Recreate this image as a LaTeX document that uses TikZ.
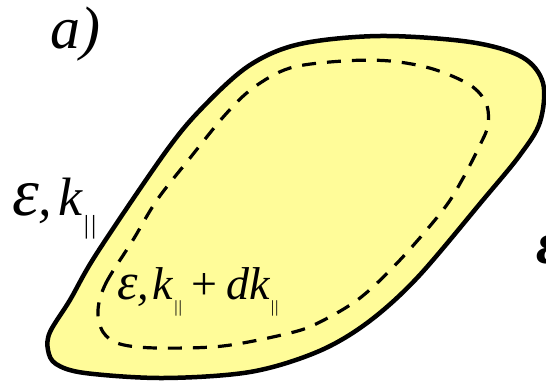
\documentclass[tikz,border=0pt]{standalone}
\usepackage{fontspec}
\setmainfont{Liberation Serif}
\definecolor{blobfill}{RGB}{255,252,153}
\newcommand{\parsubs}[3]{\raisebox{#2}{\fontsize{#1}{#1}\selectfont\upshape |\kern#3|}}
\tikzset{
  outline/.style={draw=black, line width=4.5pt, fill=blobfill, line join=round},
  inner/.style={draw=black, line width=3.2pt, dash pattern=on 14pt off 11pt},
  lbl/.style={inner sep=0pt, anchor=base west, text=black}
}
\begin{document}
\begin{tikzpicture}[x=1pt,y=-1pt]
\clip (0,0) rectangle (546,383);
\fill[white] (0,0) rectangle (546,383);
\draw[outline] plot[smooth cycle, tension=0.55] coordinates {
 (50,332) (70,300) (97,253) (167,150) (205,105) (250,65) (300,44) (380,36)
 (470,42) (522,57) (543,83) (540,122) (520,155) (483,200) (417,278)
 (367,323) (317,352) (250,372) (163,378) (85,373) (56,364) (48,350)};
\draw[inner] plot[smooth cycle, tension=0.55] coordinates {
 (98,310) (106,283) (133,240) (157,200) (190,158) (225,115) (253,88)
 (290,68) (343,61) (390,61) (433,69) (470,85) (486,103) (488,125)
 (480,145) (462,180) (443,210) (400,260) (360,298) (320,322) (290,333)
 (223,346) (157,348) (120,344) (103,332)};
\node[lbl] (alabel) at (50,48) {\fontsize{60}{60}\selectfont\itshape a)};
\node[lbl] (leftlabel) at (12,215) {\itshape{\fontsize{68}{68}\selectfont ε}{\fontsize{54}{54}\selectfont ,\kern0.12em k}\kern1pt\parsubs{26}{-18pt}{2pt}};
\node[lbl] (innerlabel) at (117,299) {\itshape{\fontsize{52}{52}\selectfont ε}{\fontsize{46}{46}\selectfont ,\kern0.08em k}\kern1pt\parsubs{17}{-13pt}{1pt}{\fontsize{46}{46}\selectfont\upshape\kern0.2em+\kern0.2em}{\fontsize{46}{46}\selectfont dk}\kern1pt\parsubs{17}{-13pt}{1pt}};
\node[lbl] (rightlabel) at (536,263) {\fontsize{60}{60}\selectfont\itshape\bfseries ε};
\end{tikzpicture}
\end{document}
